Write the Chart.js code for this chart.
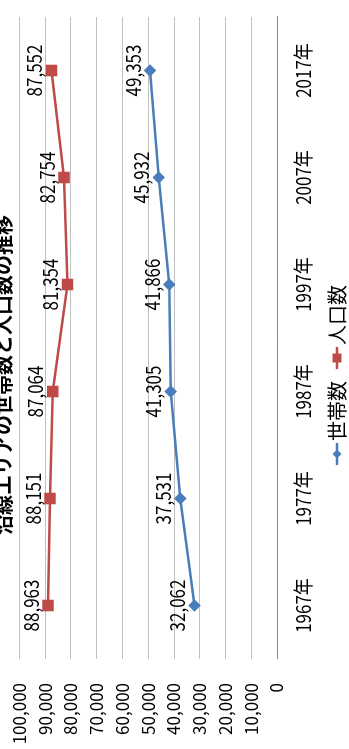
<!DOCTYPE html>
<html lang="ja">

<head>
  <meta charset="UTF-8">
  <title>世帯数と人口数の推移</title>
  <style>
    html,
    body {
      margin: 0;
      padding: 0;
      background: #fff;
      overflow: hidden;
      width: 349px;
      height: 749px;
    }

    /* the chart is landscape, the picture shows it turned a quarter left */
    #giro {
      position: absolute;
      left: 0;
      top: 0;
      width: 749px;
      height: 349px;
      transform-origin: 0 0;
      transform: translate(0px, 749px) rotate(-90deg);
    }
  </style>
</head>

<body>
  <div id="giro">
    <canvas id="grafico" width="749" height="349"></canvas>
  </div>

  <script src="https://cdn.jsdelivr.net/npm/chart.js"></script>
  <script>
    const anos = ['1967年', '1977年', '1987年', '1997年', '2007年', '2017年'];
    const setai = [32062, 37531, 41305, 41866, 45932, 49353];
    const jinko = [88963, 88151, 87064, 81354, 82754, 87552];
    const yTicks = [0, 10000, 20000, 30000, 40000, 50000, 60000, 70000, 80000, 90000, 100000];

    const titulo = '沿線エリアの世帯数と人口数の推移';
    const corAzul = '#4a7ebb';
    const corVermelho = '#be4b48';
    const fonte = "'Noto Sans CJK JP', 'Noto Sans', sans-serif";

    function texto(ctx, str, px, py, font, sx, align) {
      ctx.save();
      ctx.font = font;
      ctx.fillStyle = '#000';
      ctx.textBaseline = 'middle';
      ctx.textAlign = align || 'center';
      ctx.translate(px, py);
      ctx.scale(sx, 1);
      ctx.fillText(str, 0, 0);
      ctx.restore();
    }

    function marcador(ctx, tipo, cx, cy, cor) {
      ctx.save();
      ctx.fillStyle = cor;
      ctx.beginPath();
      if (tipo == 'rectRot') {
        ctx.moveTo(cx, cy - 4.5);
        ctx.lineTo(cx + 4.5, cy);
        ctx.lineTo(cx, cy + 4.5);
        ctx.lineTo(cx - 4.5, cy);
        ctx.closePath();
      } else {
        ctx.rect(cx - 4.5, cy - 4.5, 9, 9);
      }
      ctx.fill();
      ctx.restore();
    }

    function itemLegenda(ctx, x0, cor, tipo, nome) {
      ctx.save();
      ctx.strokeStyle = cor;
      ctx.lineWidth = 2.5;
      ctx.beginPath();
      ctx.moveTo(x0, 337);
      ctx.lineTo(x0 + 22, 337);
      ctx.stroke();
      ctx.restore();
      marcador(ctx, tipo, x0 + 11, 337, cor);
      texto(ctx, nome, x0 + 24, 337, '20px ' + fonte, 1, 'left');
    }

    const rotulos = {
      id: 'rotulos',
      afterDraw(chart) {
        const ctx = chart.ctx;
        const x = chart.scales.x;
        const y = chart.scales.y;

        texto(ctx, titulo, 374, 3, 'bold 20px ' + fonte, 1);

        yTicks.forEach(v => {
          texto(ctx, v.toLocaleString('en-US'), 66, y.getPixelForValue(v), '17px ' + fonte, 1, 'right');
        });

        anos.forEach((a, i) => {
          texto(ctx, a, x.getPixelForValue(i), 303, '20px ' + fonte, 0.85);
        });

        chart.data.datasets.forEach((ds, d) => {
          chart.getDatasetMeta(d).data.forEach((p, i) => {
            texto(ctx, ds.data[i].toLocaleString('en-US'), p.x, p.y - 17, '20px ' + fonte, 0.85);
          });
        });

        itemLegenda(ctx, 284, corAzul, 'rectRot', '世帯数');
        itemLegenda(ctx, 380, corVermelho, 'rect', '人口数');
      }
    };

    new Chart(document.getElementById('grafico').getContext('2d'), {
      type: 'line',
      data: {
        labels: anos,
        datasets: [
          {
            label: '世帯数',
            data: setai,
            borderColor: corAzul,
            backgroundColor: corAzul,
            borderWidth: 2.5,
            pointStyle: 'rectRot',
            pointRadius: 4.5,
            tension: 0
          },
          {
            label: '人口数',
            data: jinko,
            borderColor: corVermelho,
            backgroundColor: corVermelho,
            borderWidth: 2.5,
            pointStyle: 'rect',
            pointRadius: 6.4,
            tension: 0
          }
        ]
      },
      options: {
        responsive: false,
        animation: false,
        devicePixelRatio: 1,
        layout: {
          padding: { left: 90, right: 17, top: 19.5, bottom: 72 }
        },
        plugins: {
          legend: { display: false },
          title: { display: false },
          tooltip: { enabled: false }
        },
        scales: {
          x: {
            offset: true,
            grid: { display: false, drawTicks: false },
            ticks: { display: false },
            border: { display: true, color: '#868686', width: 1 }
          },
          y: {
            min: 0,
            max: 100000,
            ticks: { display: false, stepSize: 10000 },
            grid: { color: '#c0c0c0', drawTicks: false },
            border: { display: false }
          }
        }
      },
      plugins: [rotulos]
    });
  </script>
</body>

</html>
